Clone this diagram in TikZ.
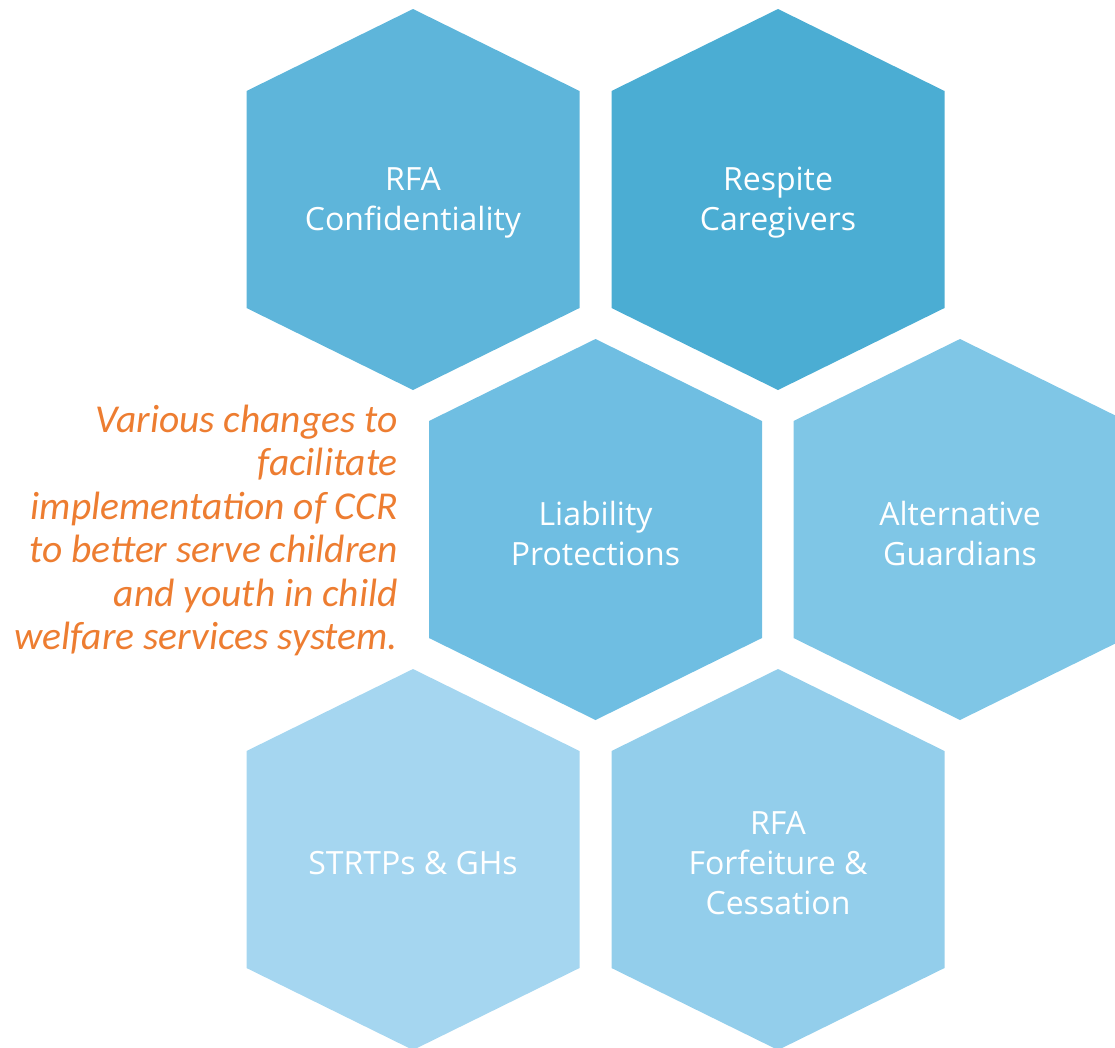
\documentclass[tikz,border=0pt]{standalone}
\usepackage{fontspec}
\setmainfont{Open Sans}
\newfontfamily\notefont{Carlito}
\usetikzlibrary{positioning}

\definecolor{hexA}{HTML}{5EB5DA}
\definecolor{hexB}{HTML}{4BADD3}
\definecolor{hexC}{HTML}{6FBEE2}
\definecolor{hexD}{HTML}{7FC6E6}
\definecolor{hexE}{HTML}{A5D6F0}
\definecolor{hexF}{HTML}{93CEEB}
\definecolor{noteorange}{HTML}{ED7D31}

\tikzset{
  hexcell/.pic={
    \fill (0,-190.5) -- (166.5,-108.5) -- (166.5,108.5) -- (0,190.5)
          -- (-166.5,108.5) -- (-166.5,-108.5) -- cycle;
  },
  hexlabel/.style={text=white, align=center, inner sep=0pt, yshift=-3.5pt,
    font=\fontsize{32}{40}\selectfont},
  note/.style={text=noteorange, align=right, inner sep=0pt,
    font=\notefont\itshape\fontsize{39.5}{43.4}\selectfont}
}

\begin{document}
\begin{tikzpicture}[x=1pt,y=-1pt]
  \useasboundingbox (0,0) rectangle (1115,1047);
  \clip (0,0) rectangle (1115,1047);

  % hexagon tiles
  \pic[fill=hexA] at (413,199.5)   {hexcell};
  \pic[fill=hexB] at (778,199.5)   {hexcell};
  \pic[fill=hexC] at (595.5,529.5) {hexcell};
  \pic[fill=hexD] at (960,529.5)   {hexcell};
  \pic[fill=hexE] at (413,859.5)   {hexcell};
  \pic[fill=hexF] at (778,859.5)   {hexcell};

  % labels
  \node[hexlabel] (conf)    at (413,199.5)   {RFA\\Confidentiality};
  \node[hexlabel] (respite) at (778,199.5)   {Respite\\Caregivers};
  \node[hexlabel] (liab)    at (595.5,529.5) {Liability\\Protections};
  \node[hexlabel] (guard)   at (960,529.5)   {Alternative\\Guardians};
  \node[hexlabel] (strtp)   at (413,859.5)   {STRTPs \& GHs};
  \node[hexlabel] (forf)    at (778,859.5)   {RFA\\Forfeiture \&\\Cessation};

  \node[note, anchor=east] (goal) at (398,530.5)
    {Various changes to\\facilitate\\implementation of CCR\\to better serve children\\and youth in child\\welfare services system.};
\end{tikzpicture}
\end{document}
